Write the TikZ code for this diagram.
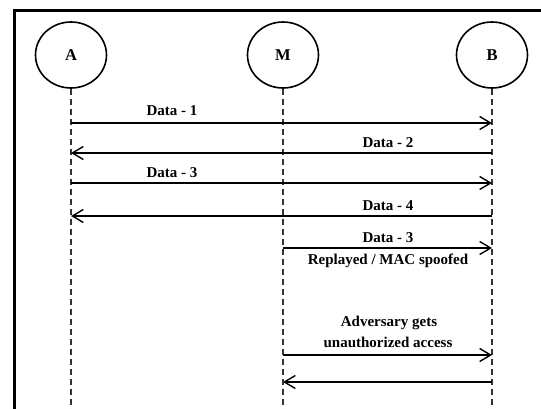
\documentclass[tikz,border=0pt]{standalone}
\usepackage{fontspec}
\setmainfont{Liberation Serif}
\usetikzlibrary{arrows.meta,shapes.geometric}
\begin{document}
\begin{tikzpicture}[x=1pt,y=-1pt,
  actor/.style={draw,line width=1.6pt,ellipse,minimum width=71pt,minimum height=66pt,inner sep=0pt,font=\fontsize{16.5}{18}\selectfont\bfseries},
  lifeline/.style={line width=1.6pt,dash pattern=on 6pt off 4pt,black!80},
  msg/.style={line width=1.4pt,-{Straight Barb[length=11pt,width=13pt,line width=1.4pt]}},
  lbl/.style={font=\fontsize{15}{17}\selectfont\bfseries,inner sep=0pt}]
\useasboundingbox (0,0) rectangle (541,409);
\clip (0,0) rectangle (541,409);
\fill[white] (0,0) rectangle (541,409);
\draw[line width=3pt] (14,420) -- (14,11) -- (560,11);
\node[actor] (A) at (71,55) {A};
\node[actor] (M) at (283,55) {M};
\node[actor] (B) at (492,55) {B};
\coordinate (Aend) at (71,412);
\coordinate (Mend) at (283,412);
\coordinate (Bend) at (492,412);
\draw[lifeline] (A.south) -- (Aend);
\draw[lifeline] (M.south) -- (Mend);
\draw[lifeline] (B.south) -- (Bend);
% messages
\coordinate (a1) at (71,123); \coordinate (b1) at (492,123);
\coordinate (a2) at (71,153); \coordinate (b2) at (492,153);
\coordinate (a3) at (71,183); \coordinate (b3) at (492,183);
\coordinate (a4) at (71,216); \coordinate (b4) at (492,216);
\coordinate (m5) at (283,248); \coordinate (b5) at (492,248);
\coordinate (m6) at (283,355); \coordinate (b6) at (492,355);
\coordinate (m7) at (283,382); \coordinate (b7) at (492,382);
\draw[msg] (a1) -- (b1);
\draw[msg] (b2) -- (a2);
\draw[msg] (a3) -- (b3);
\draw[msg] (b4) -- (a4);
\draw[msg] (m5) -- (b5);
\draw[msg] (m6) -- (b6);
\draw[msg] (b7) -- (m7);
\node[lbl] (l1) at (172,111) {Data - 1};
\node[lbl] (l2) at (388,143) {Data - 2};
\node[lbl] (l3) at (172,173) {Data - 3};
\node[lbl] (l4) at (388,206) {Data - 4};
\node[lbl] (l5) at (388,238) {Data - 3};
\node[lbl] (l6) at (388,261) {Replayed / MAC spoofed};
\node[lbl] (l7) at (389,323) {Adversary gets};
\node[lbl] (l8) at (388,342) {unauthorized access};
\end{tikzpicture}
\end{document}
